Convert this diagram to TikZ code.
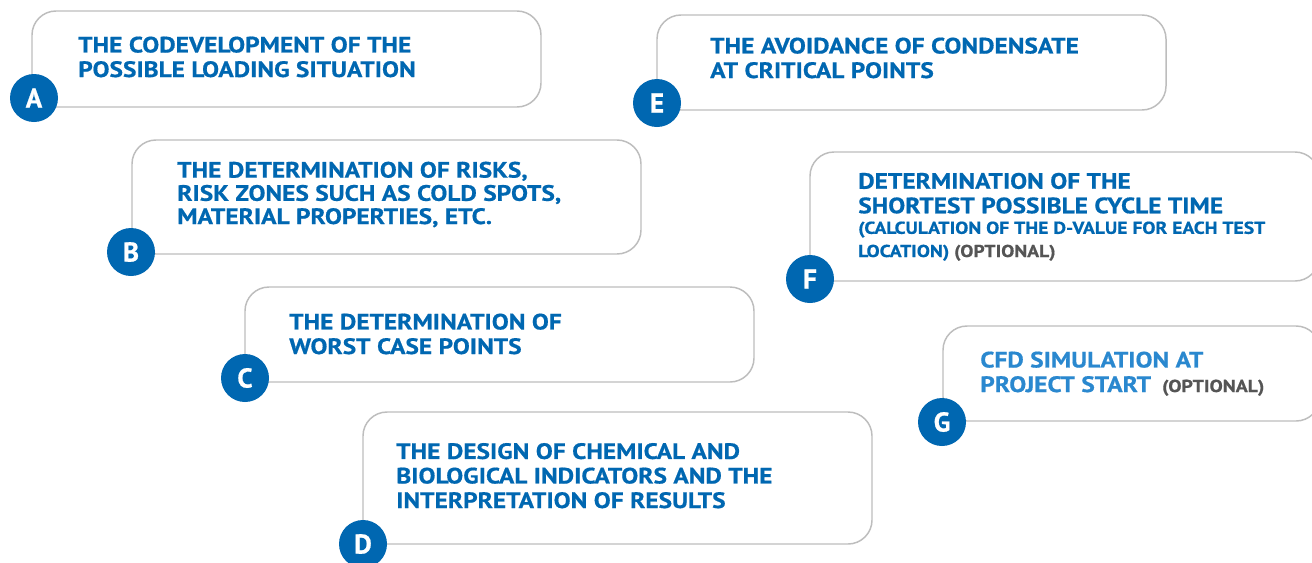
\documentclass[tikz,border=0pt]{standalone}
\usepackage{fontspec}
\setmainfont{PT Sans}[FakeStretch=1.14,BoldFeatures={FakeBold=0.6}]
\newfontfamily\badgefont{PT Sans}[BoldFeatures={FakeBold=0.8}]
\definecolor{stepblue}{HTML}{0067B1}
\definecolor{lightblue}{HTML}{2A88CF}
\definecolor{boxline}{HTML}{BDBDBD}
\definecolor{optgray}{HTML}{555555}
\newcommand\subsize{\bfseries\fontsize{12.9}{17.6}\selectfont}
\begin{document}
\begin{tikzpicture}[x=0.75pt,y=-0.75pt,
  card/.style={draw=boxline,line width=1.1pt,fill=white,rounded corners=18pt},
  badge/.style={circle,fill=stepblue,minimum size=36pt,inner sep=0pt,
    text=white,font=\badgefont\bfseries\fontsize{20.4}{20.4}\selectfont},
  % the base anchor of a multi-line node sits on its last line
  headline/.style={anchor=base west,inner sep=0pt,align=left,text=stepblue,
    font=\bfseries\fontsize{16.7}{18.4}\selectfont}
]
\useasboundingbox (0,0) rectangle (1312,562);
\fill[white] (0,0) rectangle (1312,562);

% rounded cards
\draw[card] (32,11) rectangle (541,107);
\draw[card] (657,15) rectangle (1166,110);
\draw[card] (132,140) rectangle (641,254);
\draw[card] (810,152) rectangle (1319,281);
\draw[card] (245,287) rectangle (754,382);
\draw[card] (943,326) rectangle (1320,421);
\draw[card] (363,412) rectangle (872,544);

% card texts
\node[headline] (ta) at (78,77) {THE CODEVELOPMENT OF THE\\POSSIBLE LOADING SITUATION};
\node[headline] (te) at (710,78) {THE AVOIDANCE OF CONDENSATE\\AT CRITICAL POINTS};
\node[headline,font=\bfseries\fontsize{16.7}{17.4}\selectfont] (tb) at (177,224) {THE DETERMINATION OF RISKS,\\RISK ZONES SUCH AS COLD SPOTS,\\MATERIAL PROPERTIES, ETC.};
\node[headline] (tf) at (858,257) {DETERMINATION OF THE\\SHORTEST POSSIBLE CYCLE TIME\\[-3pt]
  {\subsize (CALCULATION OF THE D-VALUE FOR EACH TEST}\\[-1pt]
  {\subsize LOCATION) \textcolor{optgray}{(OPTIONAL)}}};
\node[headline] (tc) at (289,354) {THE DETERMINATION OF\\WORST CASE POINTS};
\node[headline,text=lightblue] (tg) at (980,392) {CFD SIMULATION AT\\PROJECT START\enspace
  {\color{optgray}\fontsize{13}{14}\selectfont (OPTIONAL)}};
\node[headline] (td) at (396,508) {THE DESIGN OF CHEMICAL AND\\BIOLOGICAL INDICATORS AND THE\\INTERPRETATION OF RESULTS};

% letter badges
\node[badge] (ba) at (34,98) {A};
\node[badge] (be) at (657,103) {E};
\node[badge] (bb) at (131,252) {B};
\node[badge] (bf) at (810,279) {F};
\node[badge] (bc) at (245,378) {C};
\node[badge] (bg) at (942,422) {G};
\node[badge] (bd) at (363,544) {D};
\end{tikzpicture}
\end{document}
